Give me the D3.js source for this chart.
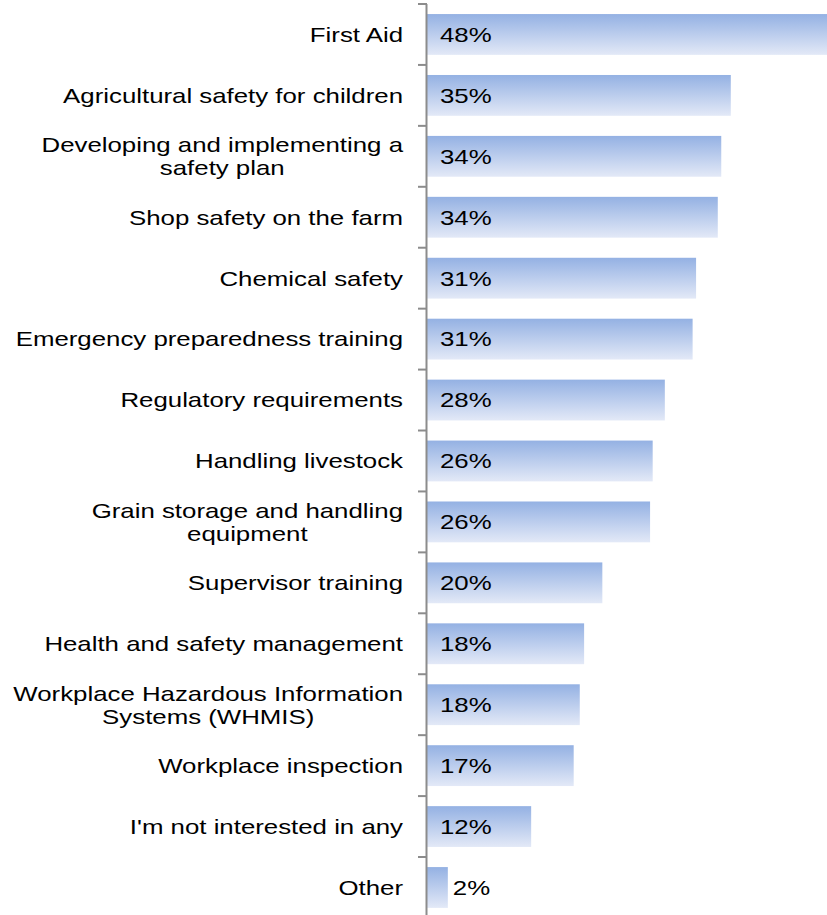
<!DOCTYPE html>
<html>
<head>
<meta charset="utf-8">
<script src="https://cdn.jsdelivr.net/npm/d3@7"></script>
<style>
  html, body { margin: 0; padding: 0; background: #fff; overflow: hidden; }
  svg { display: block; font-family: "Liberation Sans", Arial, sans-serif; }
</style>
</head>
<body>
<svg id="chart" width="827" height="915"></svg>
<script>
const categories = [
  ["First Aid"],
  ["Agricultural safety for children"],
  ["Developing and implementing a", "safety plan"],
  ["Shop safety on the farm"],
  ["Chemical safety"],
  ["Emergency preparedness training"],
  ["Regulatory requirements"],
  ["Handling livestock"],
  ["Grain storage and handling", "equipment"],
  ["Supervisor training"],
  ["Health and safety management"],
  ["Workplace Hazardous Information", "Systems (WHMIS)"],
  ["Workplace inspection"],
  ["I'm not interested in any"],
  ["Other"]
];
const values = [47.8, 35.0, 33.9, 33.5, 31.0, 30.6, 27.4, 26.0, 25.7, 20.2, 18.1, 17.6, 16.9, 12.0, 2.4];
const valueLabels = ["48%", "35%", "34%", "34%", "31%", "31%", "28%", "26%", "26%", "20%", "18%", "18%", "17%", "12%", "2%"];

const svg = d3.select("#chart");
const x0 = 427;
const pxPerPct = 8.68;
const x = d3.scaleLinear().domain([0, 50]).range([x0, x0 + 50 * pxPerPct]);
const idx = d3.range(categories.length);
const y = d3.scaleBand().domain(idx).range([4, 4 + 15 * 60.93]).paddingInner(0.33).paddingOuter(0.165);

const defs = svg.append("defs");
const grad = defs.append("linearGradient").attr("id", "barGrad")
  .attr("x1", 0).attr("y1", 0).attr("x2", 0).attr("y2", 1);
grad.append("stop").attr("offset", "0%").attr("stop-color", "#94b1e3");
grad.append("stop").attr("offset", "100%").attr("stop-color", "#e3e9f7");

// bars
svg.append("g").selectAll("rect").data(idx).join("rect")
  .attr("x", x(0))
  .attr("y", d => y(d))
  .attr("width", d => x(values[d]) - x(0))
  .attr("height", y.bandwidth())
  .attr("fill", "url(#barGrad)");

// axis line and ticks
const yBand = d3.scaleBand().domain(idx).range([4, 4 + 15 * 60.93]);
const axisG = svg.append("g");
axisG.append("line")
  .attr("x1", x0 - 0.5).attr("x2", x0 - 0.5)
  .attr("y1", 4).attr("y2", 925)
  .attr("stroke", "#8c8c8c").attr("stroke-width", 2);
axisG.selectAll("line.tick").data(d3.range(categories.length + 1)).join("line")
  .attr("class", "tick")
  .attr("x1", x0 - 9).attr("x2", x0)
  .attr("y1", d => 4 + d * yBand.step())
  .attr("y2", d => 4 + d * yBand.step())
  .attr("stroke", "#8c8c8c").attr("stroke-width", 2);

// category labels (text horizontally stretched like the reference)
const fontSize = 21;
const sx = 1.23;
const labelRight = 403;
const lineH = 23;
const labelG = svg.append("g")
  .attr("transform", `translate(${labelRight},0) scale(${sx},1)`)
  .attr("font-size", fontSize).attr("fill", "#000");
idx.forEach(i => {
  const lines = categories[i];
  const cy = yBand(i) + yBand.bandwidth() / 2;
  const t = labelG.append("text").attr("text-anchor", "middle");
  lines.forEach(ln => t.append("tspan").text(ln));
  const tsp = t.selectAll("tspan").nodes();
  const w = d3.max(tsp.map(n => n.getComputedTextLength()));
  const cx = -w / 2;
  const n = lines.length;
  tsp.forEach((node, k) => {
    d3.select(node)
      .attr("x", cx)
      .attr("y", cy + (k - (n - 1) / 2) * lineH)
      .attr("dy", "0.35em");
  });
});

// value labels
const valG = svg.append("g").attr("font-size", fontSize).attr("fill", "#000");
idx.forEach(d => {
  const lx = values[d] < 5 ? x(values[d]) + 5 : x(0) + 13;
  valG.append("text")
    .attr("transform", `translate(${lx},${y(d) + y.bandwidth() / 2}) scale(${sx},1)`)
    .attr("dy", "0.35em")
    .text(valueLabels[d]);
});
</script>
</body>
</html>
